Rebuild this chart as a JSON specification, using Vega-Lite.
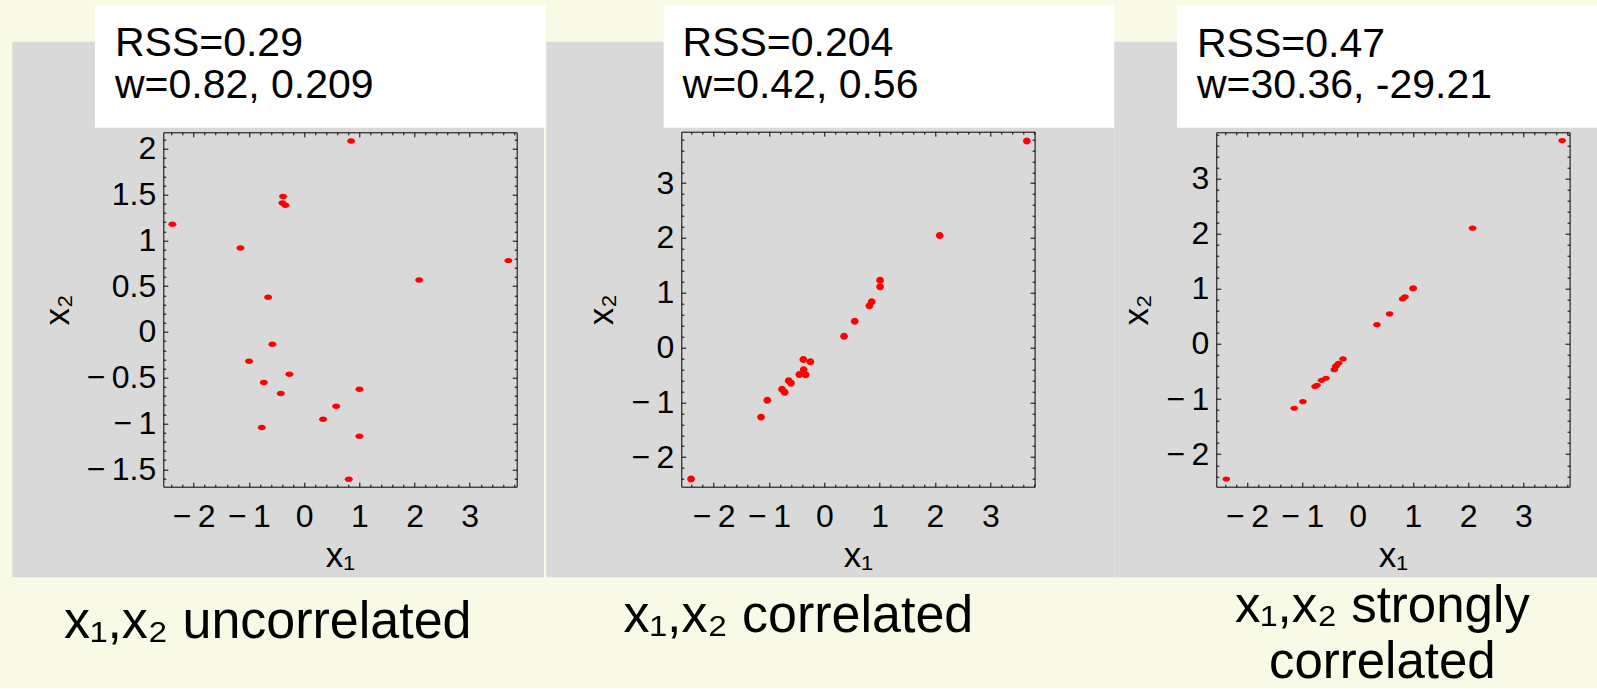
{
  "$schema": "https://vega.github.io/schema/vega-lite/v6.json",
  "background": "#f9fae5",
  "padding": {"left": 12.3, "top": 4.7, "right": 0, "bottom": 0},
  "autosize": {"type": "pad"},
  "config": {
    "view": {"stroke": null},
    "axis": {
      "grid": false,
      "labelFont": "Liberation Sans",
      "labelFontSize": 32,
      "labelColor": "#000000",
      "labelFlush": false,
      "labelOverlap": false,
      "labelExpr": "datum.value < 0 ? '−\u2009' + format(-datum.value, '~g') : format(datum.value, '~g')",
      "titleFont": "Liberation Sans",
      "titleFontSize": 35,
      "titleFontWeight": "normal",
      "titleColor": "#000000",
      "tickColor": "#000000",
      "tickWidth": 1,
      "domainColor": "#000000",
      "domainWidth": 1
    }
  },
  "datasets": {
    "p1": [
      {"x1": 0.851, "x2": 2.085}, {"x1": -0.38, "x2": 1.478}, {"x1": -0.393, "x2": 1.408}, {"x1": -0.338, "x2": 1.383},
      {"x1": -2.385, "x2": 1.176}, {"x1": -1.153, "x2": 0.917}, {"x1": 3.7, "x2": 0.779}, {"x1": 2.083, "x2": 0.568},
      {"x1": -0.652, "x2": 0.379}, {"x1": -0.574, "x2": -0.134}, {"x1": -0.996, "x2": -0.32}, {"x1": -0.266, "x2": -0.462},
      {"x1": -0.73, "x2": -0.553}, {"x1": -0.422, "x2": -0.673}, {"x1": 1.002, "x2": -0.626}, {"x1": 0.58, "x2": -0.811},
      {"x1": 0.344, "x2": -0.953}, {"x1": -0.766, "x2": -1.044}, {"x1": 1.002, "x2": -1.139}, {"x1": 0.809, "x2": -1.608}
    ],
    "p2": [
      {"x1": 3.66, "x2": 3.77}, {"x1": -2.41, "x2": -2.4}, {"x1": 2.085, "x2": 2.044}, {"x1": 1.007, "x2": 1.23},
      {"x1": 1.007, "x2": 1.108}, {"x1": 0.856, "x2": 0.834}, {"x1": 0.814, "x2": 0.761}, {"x1": 0.549, "x2": 0.481},
      {"x1": 0.356, "x2": 0.208}, {"x1": -0.38, "x2": -0.219}, {"x1": -0.253, "x2": -0.261}, {"x1": -0.374, "x2": -0.407},
      {"x1": -0.452, "x2": -0.492}, {"x1": -0.338, "x2": -0.498}, {"x1": -0.645, "x2": -0.608}, {"x1": -0.602, "x2": -0.65},
      {"x1": -0.765, "x2": -0.759}, {"x1": -0.718, "x2": -0.814}, {"x1": -1.031, "x2": -0.96}, {"x1": -1.145, "x2": -1.27}
    ],
    "p3": [
      {"x1": 3.7, "x2": 3.69}, {"x1": -2.374, "x2": -2.45}, {"x1": 2.08, "x2": 2.1}, {"x1": 1.007, "x2": 1.016},
      {"x1": 1.002, "x2": 1.0}, {"x1": 0.857, "x2": 0.853}, {"x1": 0.814, "x2": 0.817}, {"x1": 0.579, "x2": 0.544},
      {"x1": 0.35, "x2": 0.35}, {"x1": -0.264, "x2": -0.272}, {"x1": -0.343, "x2": -0.351}, {"x1": -0.385, "x2": -0.393},
      {"x1": -0.395, "x2": -0.41}, {"x1": -0.421, "x2": -0.466}, {"x1": -0.571, "x2": -0.623}, {"x1": -0.651, "x2": -0.66},
      {"x1": -0.734, "x2": -0.751}, {"x1": -0.77, "x2": -0.774}, {"x1": -0.988, "x2": -1.047}, {"x1": -1.145, "x2": -1.167}
    ]
  },
  "hconcat": [
    {
      "width": 531.7,
      "height": 535.6,
      "view": {"fill": "#d9d9d9", "stroke": null},
      "resolve": {"axis": {"x": "independent", "y": "independent"}},
      "layer": [
        {
          "data": {"values": [{"t": "RSS=0.29\nw=0.82, 0.209"}]},
          "mark": {"type": "rect", "fill": "#ffffff"},
          "encoding": {"x": {"datum": -3.787, "axis": null}, "x2": {"datum": 4.375}, "y": {"datum": 3.573, "axis": null}, "y2": {"datum": 2.23}}
        },
        {
          "data": {"values": [{"t": "RSS=0.29\nw=0.82, 0.209"}]},
          "mark": {"type": "text", "font": "Liberation Sans", "fontSize": 41, "align": "left", "baseline": "alphabetic", "lineBreak": "\n", "lineHeight": 41.5, "color": "#000000"},
          "encoding": {"x": {"datum": -3.425, "axis": null}, "y": {"datum": 3.008, "axis": null}, "text": {"field": "t"}}
        },
        {
          "data": {"values": [{"t": "x₁,x₂ uncorrelated"}]},
          "mark": {"type": "text", "font": "Liberation Sans", "fontSize": 52, "align": "center", "baseline": "alphabetic", "color": "#000000"},
          "encoding": {"x": {"datum": -0.66, "axis": null}, "y": {"datum": -3.345, "axis": null}, "text": {"field": "t"}}
        },
        {
          "data": {"name": "p1"},
          "mark": {"type": "point", "shape": "M-1,0A1,0.68,0,1,1,1,0A1,0.68,0,1,1,-1,0Z", "filled": true, "color": "#ff0000", "size": 64, "opacity": 1},
          "encoding": {
            "x": {"field": "x1", "type": "quantitative", "scale": {"domain": [-2.55, 3.85], "range": [151, 504.4], "nice": false, "zero": false},
              "axis": {"orient": "bottom", "offset": -90.6, "values": [-2, -1, 0, 1, 2, 3], "title": "x₁", "tickSize": -4.5, "labelPadding": 19, "titlePadding": 6}},
            "y": {"field": "x2", "type": "quantitative", "scale": {"domain": [-1.69, 2.18], "range": [445, 90.6], "nice": false, "zero": false},
              "axis": {"orient": "left", "offset": -151, "values": [-1.5, -1, -0.5, 0, 0.5, 1, 1.5, 2], "title": "x₂", "tickSize": -4.5, "labelPadding": 12, "titlePadding": 11}}
          }
        },
        {
          "data": {"name": "p1"},
          "mark": {"type": "point", "opacity": 0},
          "encoding": {
            "x": {"field": "x1", "type": "quantitative", "axis": {"orient": "top", "offset": -90.6, "values": [-2, -1, 0, 1, 2, 3], "labels": false, "title": null, "tickSize": -4.5}},
            "y": {"field": "x2", "type": "quantitative", "axis": {"orient": "right", "offset": -27.3, "values": [-1.5, -1, -0.5, 0, 0.5, 1, 1.5, 2], "labels": false, "title": null, "tickSize": -4.5}}
          }
        },
        {
          "data": {"name": "p1"},
          "mark": {"type": "point", "opacity": 0},
          "encoding": {
            "x": {"field": "x1", "type": "quantitative", "axis": {"orient": "bottom", "offset": -90.6, "values": [-2.4,-2.2,-1.8,-1.6,-1.4,-1.2,-0.8,-0.6,-0.4,-0.2,0.2,0.4,0.6,0.8,1.2,1.4,1.6,1.8,2.2,2.4,2.6,2.8,3.2,3.4,3.6,3.8], "labels": false, "domain": false, "title": null, "tickSize": -2.5}},
            "y": {"field": "x2", "type": "quantitative", "axis": {"orient": "left", "offset": -151, "values": [-1.6,-1.4,-1.3,-1.2,-1.1,-0.9,-0.8,-0.7,-0.6,-0.4,-0.3,-0.2,-0.1,0.1,0.2,0.3,0.4,0.6,0.7,0.8,0.9,1.1,1.2,1.3,1.4,1.6,1.7,1.8,1.9,2.1], "labels": false, "domain": false, "title": null, "tickSize": -2.5}}
          }
        },
        {
          "data": {"name": "p1"},
          "mark": {"type": "point", "opacity": 0},
          "encoding": {
            "x": {"field": "x1", "type": "quantitative", "axis": {"orient": "top", "offset": -90.6, "values": [-2.4,-2.2,-1.8,-1.6,-1.4,-1.2,-0.8,-0.6,-0.4,-0.2,0.2,0.4,0.6,0.8,1.2,1.4,1.6,1.8,2.2,2.4,2.6,2.8,3.2,3.4,3.6,3.8], "labels": false, "domain": false, "title": null, "tickSize": -2.5}},
            "y": {"field": "x2", "type": "quantitative", "axis": {"orient": "right", "offset": -27.3, "values": [-1.6,-1.4,-1.3,-1.2,-1.1,-0.9,-0.8,-0.7,-0.6,-0.4,-0.3,-0.2,-0.1,0.1,0.2,0.3,0.4,0.6,0.7,0.8,0.9,1.1,1.2,1.3,1.4,1.6,1.7,1.8,1.9,2.1], "labels": false, "domain": false, "title": null, "tickSize": -2.5}}
          }
        }
      ]
    },
    {
      "spacing": 0,
      "bounds": "flush",
      "hconcat": [
        {
          "width": 568,
          "height": 535.6,
          "view": {"fill": "#d9d9d9", "stroke": null},
          "resolve": {"axis": {"x": "independent", "y": "independent"}},
          "layer": [
            {
              "data": {"values": [{"t": "RSS=0.204\nw=0.42, 0.56"}]},
              "mark": {"type": "rect", "fill": "#ffffff"},
              "encoding": {"x": {"datum": -2.906, "axis": null}, "x2": {"datum": 5.241}, "y": {"datum": 6.258, "axis": null}, "y2": {"datum": 4.013}}
            },
            {
              "data": {"values": [{"t": "RSS=0.204\nw=0.42, 0.56"}]},
              "mark": {"type": "text", "font": "Liberation Sans", "fontSize": 41, "align": "left", "baseline": "alphabetic", "lineBreak": "\n", "lineHeight": 41.5, "color": "#000000"},
              "encoding": {"x": {"datum": -2.5625, "axis": null}, "y": {"datum": 5.313, "axis": null}, "text": {"field": "t"}}
            },
            {
              "data": {"values": [{"t": "x₁,x₂ correlated"}]},
              "mark": {"type": "text", "font": "Liberation Sans", "fontSize": 52, "align": "center", "baseline": "alphabetic", "color": "#000000"},
              "encoding": {"x": {"datum": -0.47, "axis": null}, "y": {"datum": -5.187, "axis": null}, "text": {"field": "t"}}
            },
            {
              "data": {"name": "p2"},
              "mark": {"type": "point", "shape": "M-1,0A1,0.9,0,1,1,1,0A1,0.9,0,1,1,-1,0Z", "filled": true, "color": "#ff0000", "size": 60, "opacity": 1},
              "encoding": {
                "x": {"field": "x1", "type": "quantitative", "scale": {"domain": [-2.586, 3.8], "range": [135, 488.3], "nice": false, "zero": false},
                  "axis": {"orient": "bottom", "offset": -90.6, "values": [-2, -1, 0, 1, 2, 3], "title": "x₁", "tickSize": -4.5, "labelPadding": 19, "titlePadding": 6}},
                "y": {"field": "x2", "type": "quantitative", "scale": {"domain": [-2.54, 3.94], "range": [445, 90], "nice": false, "zero": false},
                  "axis": {"orient": "left", "offset": -135, "values": [-2, -1, 0, 1, 2, 3], "title": "x₂", "tickSize": -4.5, "labelPadding": 12, "titlePadding": 11}}
              }
            },
            {
              "data": {"name": "p2"},
              "mark": {"type": "point", "opacity": 0},
              "encoding": {
                "x": {"field": "x1", "type": "quantitative", "axis": {"orient": "top", "offset": -90, "values": [-2, -1, 0, 1, 2, 3], "labels": false, "title": null, "tickSize": -4.5}},
                "y": {"field": "x2", "type": "quantitative", "axis": {"orient": "right", "offset": -79.7, "values": [-2, -1, 0, 1, 2, 3], "labels": false, "title": null, "tickSize": -4.5}}
              }
            },
            {
              "data": {"name": "p2"},
              "mark": {"type": "point", "opacity": 0},
              "encoding": {
                "x": {"field": "x1", "type": "quantitative", "axis": {"orient": "bottom", "offset": -90.6, "values": [-2.4,-2.2,-1.8,-1.6,-1.4,-1.2,-0.8,-0.6,-0.4,-0.2,0.2,0.4,0.6,0.8,1.2,1.4,1.6,1.8,2.2,2.4,2.6,2.8,3.2,3.4,3.6,3.8], "labels": false, "domain": false, "title": null, "tickSize": -2.5}},
                "y": {"field": "x2", "type": "quantitative", "axis": {"orient": "left", "offset": -135, "values": [-2.4,-2.2,-1.8,-1.6,-1.4,-1.2,-0.8,-0.6,-0.4,-0.2,0.2,0.4,0.6,0.8,1.2,1.4,1.6,1.8,2.2,2.4,2.6,2.8,3.2,3.4,3.6,3.8], "labels": false, "domain": false, "title": null, "tickSize": -2.5}}
              }
            },
            {
              "data": {"name": "p2"},
              "mark": {"type": "point", "opacity": 0},
              "encoding": {
                "x": {"field": "x1", "type": "quantitative", "axis": {"orient": "top", "offset": -90, "values": [-2.4,-2.2,-1.8,-1.6,-1.4,-1.2,-0.8,-0.6,-0.4,-0.2,0.2,0.4,0.6,0.8,1.2,1.4,1.6,1.8,2.2,2.4,2.6,2.8,3.2,3.4,3.6,3.8], "labels": false, "domain": false, "title": null, "tickSize": -2.5}},
                "y": {"field": "x2", "type": "quantitative", "axis": {"orient": "right", "offset": -79.7, "values": [-2.4,-2.2,-1.8,-1.6,-1.4,-1.2,-0.8,-0.6,-0.4,-0.2,0.2,0.4,0.6,0.8,1.2,1.4,1.6,1.8,2.2,2.4,2.6,2.8,3.2,3.4,3.6,3.8], "labels": false, "domain": false, "title": null, "tickSize": -2.5}}
              }
            }
          ]
        },
        {
          "width": 483,
          "height": 535.6,
          "view": {"fill": "#d9d9d9", "stroke": null},
          "resolve": {"axis": {"x": "independent", "y": "independent"}},
          "layer": [
            {
              "data": {"values": [{"t": "RSS=0.47\nw=30.36, -29.21"}]},
              "mark": {"type": "rect", "fill": "#ffffff"},
              "encoding": {"x": {"datum": -3.266, "axis": null}, "x2": {"datum": 4.335}, "y": {"datum": 6.155, "axis": null}, "y2": {"datum": 3.923}}
            },
            {
              "data": {"values": [{"t": "RSS=0.47\nw=30.36, -29.21"}]},
              "mark": {"type": "text", "font": "Liberation Sans", "fontSize": 41, "align": "left", "baseline": "alphabetic", "lineBreak": "\n", "lineHeight": 41.5, "color": "#000000"},
              "encoding": {"x": {"datum": -2.904, "axis": null}, "y": {"datum": 5.215, "axis": null}, "text": {"field": "t"}}
            },
            {
              "data": {"values": [{"t": "x₁,x₂ strongly\ncorrelated"}]},
              "mark": {"type": "text", "font": "Liberation Sans", "fontSize": 51, "align": "center", "baseline": "alphabetic", "lineBreak": "\n", "lineHeight": 56, "color": "#000000"},
              "encoding": {"x": {"datum": 0.447, "axis": null}, "y": {"datum": -5.045, "axis": null}, "text": {"field": "t"}}
            },
            {
              "data": {"name": "p3"},
              "mark": {"type": "point", "shape": "M-1,0A1,0.68,0,1,1,1,0A1,0.68,0,1,1,-1,0Z", "filled": true, "color": "#ff0000", "size": 58, "opacity": 1},
              "encoding": {
                "x": {"field": "x1", "type": "quantitative", "scale": {"domain": [-2.555, 3.834], "range": [102, 455.3], "nice": false, "zero": false},
                  "axis": {"orient": "bottom", "offset": -90.6, "values": [-2, -1, 0, 1, 2, 3], "title": "x₁", "tickSize": -4.5, "labelPadding": 19, "titlePadding": 6}},
                "y": {"field": "x2", "type": "quantitative", "scale": {"domain": [-2.59, 3.84], "range": [445, 90.6], "nice": false, "zero": false},
                  "axis": {"orient": "left", "offset": -102, "values": [-2, -1, 0, 1, 2, 3], "title": "x₂", "tickSize": -4.5, "labelPadding": 12, "titlePadding": 11}}
              }
            },
            {
              "data": {"name": "p3"},
              "mark": {"type": "point", "opacity": 0},
              "encoding": {
                "x": {"field": "x1", "type": "quantitative", "axis": {"orient": "top", "offset": -90.6, "values": [-2, -1, 0, 1, 2, 3], "labels": false, "title": null, "tickSize": -4.5}},
                "y": {"field": "x2", "type": "quantitative", "axis": {"orient": "right", "offset": -27.7, "values": [-2, -1, 0, 1, 2, 3], "labels": false, "title": null, "tickSize": -4.5}}
              }
            },
            {
              "data": {"name": "p3"},
              "mark": {"type": "point", "opacity": 0},
              "encoding": {
                "x": {"field": "x1", "type": "quantitative", "axis": {"orient": "bottom", "offset": -90.6, "values": [-2.4,-2.2,-1.8,-1.6,-1.4,-1.2,-0.8,-0.6,-0.4,-0.2,0.2,0.4,0.6,0.8,1.2,1.4,1.6,1.8,2.2,2.4,2.6,2.8,3.2,3.4,3.6,3.8], "labels": false, "domain": false, "title": null, "tickSize": -2.5}},
                "y": {"field": "x2", "type": "quantitative", "axis": {"orient": "left", "offset": -102, "values": [-2.4,-2.2,-1.8,-1.6,-1.4,-1.2,-0.8,-0.6,-0.4,-0.2,0.2,0.4,0.6,0.8,1.2,1.4,1.6,1.8,2.2,2.4,2.6,2.8,3.2,3.4,3.6,3.8], "labels": false, "domain": false, "title": null, "tickSize": -2.5}}
              }
            },
            {
              "data": {"name": "p3"},
              "mark": {"type": "point", "opacity": 0},
              "encoding": {
                "x": {"field": "x1", "type": "quantitative", "axis": {"orient": "top", "offset": -90.6, "values": [-2.4,-2.2,-1.8,-1.6,-1.4,-1.2,-0.8,-0.6,-0.4,-0.2,0.2,0.4,0.6,0.8,1.2,1.4,1.6,1.8,2.2,2.4,2.6,2.8,3.2,3.4,3.6,3.8], "labels": false, "domain": false, "title": null, "tickSize": -2.5}},
                "y": {"field": "x2", "type": "quantitative", "axis": {"orient": "right", "offset": -27.7, "values": [-2.4,-2.2,-1.8,-1.6,-1.4,-1.2,-0.8,-0.6,-0.4,-0.2,0.2,0.4,0.6,0.8,1.2,1.4,1.6,1.8,2.2,2.4,2.6,2.8,3.2,3.4,3.6,3.8], "labels": false, "domain": false, "title": null, "tickSize": -2.5}}
              }
            }
          ]
        }
      ]
    }
  ],
  "spacing": 2,
  "bounds": "flush"
}
